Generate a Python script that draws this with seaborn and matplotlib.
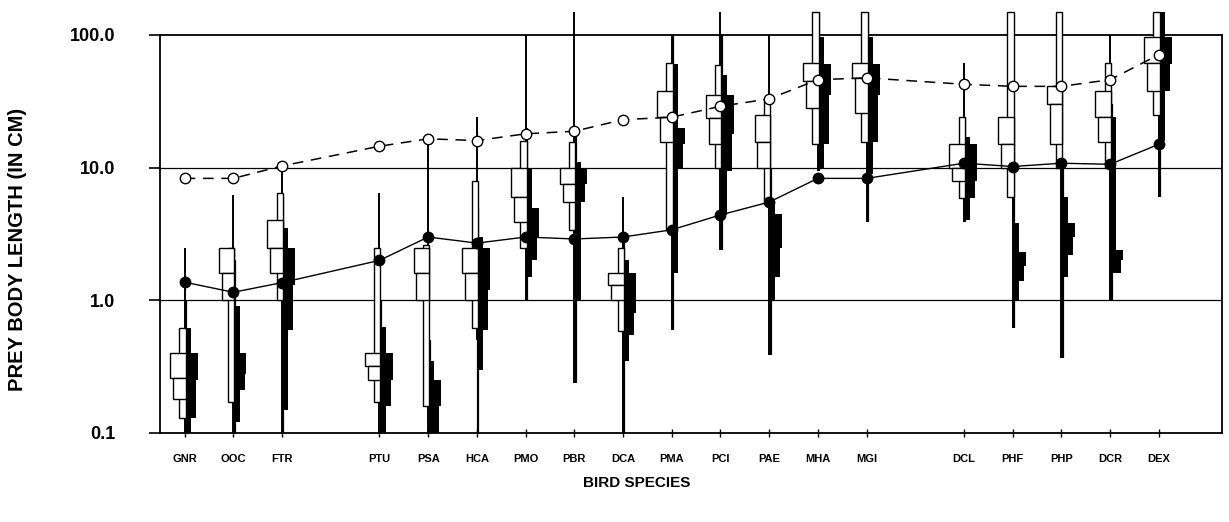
import matplotlib
matplotlib.use("Agg")
import matplotlib.pyplot as plt
import numpy as np
import seaborn as sns
from matplotlib.ticker import NullLocator

# Bird species, in the order of the x axis, and the size of each block of species
species = ["GNR", "OOC", "FTR",
           "PTU", "PSA", "HCA", "PMO", "PBR", "DCA", "PMA", "PCI", "PAE", "MHA", "MGI",
           "DCL", "PHF", "PHP", "DCR", "DEX"]
group_sizes = [3, 11, 5]

# Open circles (dashed line) and filled circles (solid line), prey length in cm
open_circle = [8.3, 8.3, 10.3, 14.5, 16.5, 16.0, 18.0, 18.8, 23.0, 24.0, 29.0, 33.0,
               46.0, 47.5, 42.5, 41.0, 41.0, 46.0, 71.0]
filled_circle = [1.37, 1.15, 1.36, 2.0, 3.0, 2.7, 3.0, 2.9, 3.0, 3.4, 4.4, 5.5,
                 8.3, 8.3, 10.8, 10.2, 10.8, 10.6, 15.0]

# Open distribution: whisker ends, outer box (p10-p90), inner box (p25-p75), median
open_lo = [0.1, 0.1, 0.1, 0.1, 0.1, 0.5, 1.0, 0.24, 0.1, 0.6, 2.4, 0.39, 9.5, 3.9, 3.9, 0.62, 0.37, 1.0, 6.0]
open_p10 = [0.13, 0.17, 1.0, 0.17, 0.16, 0.62, 2.5, 3.4, 0.59, 3.4, 10, 5.7, 15, 15.5, 5.9, 6.0, 10, 10, 25]
open_p25 = [0.18, 1.0, 1.6, 0.25, 1.0, 1.0, 3.9, 5.5, 1.0, 15.5, 15, 10, 28, 26, 8.0, 10, 15, 15.5, 38]
open_p50 = [0.26, 1.6, 2.5, 0.32, 1.6, 1.6, 6.0, 7.5, 1.3, 24, 23.5, 15.5, 45, 47, 10, 15, 30, 24, 61]
open_p75 = [0.40, 2.5, 4.0, 0.40, 2.5, 2.5, 10, 10, 1.6, 38, 35, 25, 61, 61, 15, 24, 41, 38, 96]
open_p90 = [0.62, 2.5, 6.4, 2.5, 2.6, 8.0, 16, 15.5, 2.46, 61, 59, 33, 150, 150, 24, 150, 150, 61, 150]
open_hi = [2.5, 6.2, 10.3, 6.4, 16.5, 24, 100, 150, 6.0, 100, 150, 100, 150, 150, 61, 150, 150, 100, 150]

# Filled distribution, same statistics
black_lo = [0.1, 0.1, 0.1, 0.1, 0.1, 0.1, 1.0, 0.24, 0.1, 0.6, 2.4, 0.39, 9.5, 3.9, 3.9, 0.62, 0.37, 1.0, 6.0]
black_p10 = [0.1, 0.12, 0.15, 0.1, 0.1, 0.3, 1.5, 1.0, 0.35, 1.6, 4.4, 1.0, 10, 9, 4.0, 1.0, 1.5, 1.6, 16]
black_p25 = [0.13, 0.21, 0.6, 0.16, 0.1, 0.6, 2.0, 5.5, 0.55, 10, 9.5, 1.5, 15, 15.5, 5.9, 1.4, 2.2, 1.6, 38]
black_p50 = [0.25, 0.28, 1.3, 0.25, 0.16, 1.2, 3.0, 7.5, 0.8, 15, 18, 2.5, 35, 35, 8.0, 1.8, 3.0, 2.0, 60]
black_p75 = [0.40, 0.40, 2.5, 0.40, 0.25, 2.5, 5.0, 10, 1.6, 20, 35, 4.5, 60, 60, 15, 2.3, 3.8, 2.4, 96]
black_p90 = [0.62, 0.9, 3.5, 0.63, 0.35, 3.0, 10, 11, 2.0, 60, 50, 5.7, 96, 96, 17, 3.8, 6.0, 24, 150]
black_hi = [1.0, 2.0, 6.0, 1.0, 0.5, 5.0, 20, 20, 3.0, 100, 100, 10, 150, 150, 24, 10, 10, 30, 150]

# x slots with one empty slot between blocks
slots = []
start = 0
for size in group_sizes:
    slots.extend(range(start, start + size))
    start += size + 1
x = np.array(slots, dtype=float)


def arr(values):
    return np.array(values, dtype=float)


sns.set_theme(style="white")
plt.rcParams["font.family"] = ["Liberation Sans", "DejaVu Sans"]
plt.rcParams["font.weight"] = "bold"
plt.rcParams["text.color"] = "black"

fig = plt.figure(figsize=(12.29, 5.22), dpi=100)
ax = fig.add_axes([0.130, 0.1705, 0.864, 0.7625])
ax.set_yscale("log")

# reference lines at 1 and 10
for level in (1.0, 10.0):
    ax.axhline(level, color="black", lw=0.9, zorder=1)

off = 0.02
# whiskers
ax.vlines(x, arr(open_lo), arr(open_hi), color="black", lw=1.4, zorder=2, clip_on=False)
ax.vlines(x + 0.03, arr(black_lo), arr(black_hi), color="black", lw=1.6, zorder=2, clip_on=False)

# filled boxes, right of the whisker
box_kw = dict(align="edge", color="black", linewidth=0, zorder=3, clip_on=False)
ax.bar(x + off, arr(black_p90) - arr(black_p10), bottom=arr(black_p10), width=0.11, **box_kw)
ax.bar(x + off, arr(black_p75) - arr(black_p50), bottom=arr(black_p50), width=0.25, **box_kw)
ax.bar(x + off, arr(black_p50) - arr(black_p25), bottom=arr(black_p25), width=0.21, **box_kw)

# open boxes, left of the whisker
open_kw = dict(align="edge", facecolor="white", edgecolor="black", linewidth=1.0,
               zorder=4, clip_on=False)
ax.bar(x + off - 0.13, arr(open_p90) - arr(open_p10), bottom=arr(open_p10), width=0.13, **open_kw)
ax.bar(x + off - 0.32, arr(open_p75) - arr(open_p50), bottom=arr(open_p50), width=0.32, **open_kw)
ax.bar(x + off - 0.26, arr(open_p50) - arr(open_p25), bottom=arr(open_p25), width=0.26, **open_kw)

# summary lines
sns.lineplot(x=x, y=open_circle, ax=ax, color="black", linestyle=(0, (7, 5)), lw=1.1,
             marker="o", markersize=7.5, markerfacecolor="white",
             markeredgecolor="black", markeredgewidth=1.0, zorder=6, legend=False)
sns.lineplot(x=x, y=filled_circle, ax=ax, color="black", lw=1.0,
             marker="o", markersize=7.5, markerfacecolor="black",
             markeredgecolor="black", markeredgewidth=1.0, zorder=6, legend=False)

ax.set_ylim(0.1, 100)
ax.set_xlim(-0.51, 21.29)
ax.set_yticks([0.1, 1, 10, 100])
ax.set_yticklabels(["0.1", "1.0", "10.0", "100.0"])
ax.yaxis.set_minor_locator(NullLocator())
ax.set_xticks(x)
ax.set_xticklabels(species)

ax.tick_params(axis="y", direction="out", length=8, width=1.2, pad=24,
               labelsize=13, colors="black", left=True)
ax.tick_params(axis="x", direction="inout", length=6, width=1.0, pad=12,
               labelsize=8, colors="black", bottom=True)
for lab in ax.get_xticklabels() + ax.get_yticklabels():
    lab.set_fontweight("bold")

for spine in ax.spines.values():
    spine.set_visible(True)
    spine.set_color("black")
    spine.set_linewidth(1.3)

ax.set_xlabel("")
ax.set_ylabel("")
fig.text(637 / 1229, 1 - 483 / 522, "BIRD SPECIES", ha="center", va="center",
         fontsize=11, fontweight="bold", color="black")
fig.text(18 / 1229, 1 - 249 / 522, "PREY BODY LENGTH (IN CM)", ha="center", va="center",
         rotation=90, fontsize=14.5, fontweight="bold", color="black")

fig.savefig("out.png", dpi=100)
